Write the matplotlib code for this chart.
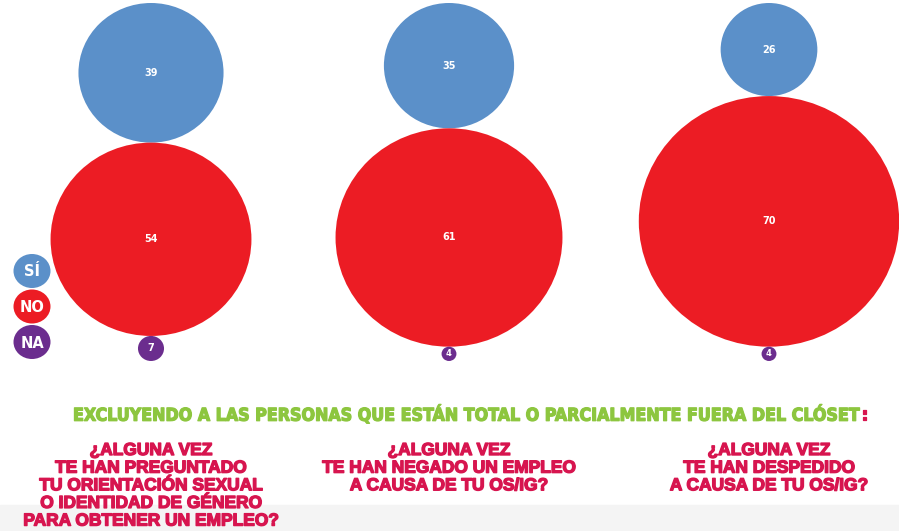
import matplotlib
matplotlib.use('Agg')
import matplotlib.pyplot as plt
import matplotlib.patheffects as pe
from matplotlib.patches import Ellipse, Rectangle

# data
respuestas = ['SÍ', 'NO', 'NA']
si = [39, 35, 26]
no = [54, 61, 70]
na = [7, 4, 4]
preguntas = [
    '¿ALGUNA VEZ\nTE HAN PREGUNTADO\nTU ORIENTACIÓN SEXUAL\nO IDENTIDAD DE GÉNERO\nPARA OBTENER UN EMPLEO?',
    '¿ALGUNA VEZ\nTE HAN NEGADO UN EMPLEO\nA CAUSA DE TU OS/IG?',
    '¿ALGUNA VEZ\nTE HAN DESPEDIDO\nA CAUSA DE TU OS/IG?',
]
titulo = 'EXCLUYENDO A LAS PERSONAS QUE ESTÁN TOTAL O PARCIALMENTE FUERA DEL CLÓSET'

colores = ['#5B90C9', '#EC1C24', '#6B2D8E']
verde = '#8DC63F'
magenta = '#D7154F'

fig = plt.figure(figsize=(8.99, 5.31), dpi=100)
ax = fig.add_axes([0, 0, 1, 1])
ax.set_xlim(0, 899)
ax.set_ylim(531, 0)
ax.axis('off')

# light band at the bottom
ax.add_patch(Rectangle((0, 505), 899, 26, color='#F4F4F4', zorder=0))

# bubbles: radius proportional to value, stacked from the top
kx, ky = 1.86, 1.79
xs = [151, 449, 769]
for i, x in enumerate(xs):
    top = 3
    for vals, col in zip([si, no, na], colores):
        v = vals[i]
        cy = top + ky * v
        ax.add_patch(Ellipse((x, cy), 2 * kx * v, 2 * ky * v, color=col, lw=0))
        ax.text(x, cy, str(v), color='white', fontsize=7 if v > 5 else 6,
                fontweight='bold', ha='center', va='center')
        top = cy + ky * v

# legend
for j, (lab, col) in enumerate(zip(respuestas, colores)):
    cy = 271 + 35.5 * j
    ax.add_patch(Ellipse((32, cy), 37, 34, color=col, lw=0))
    ax.text(32, cy + 1, lab, color='white', fontsize=10.5, fontweight='bold',
            ha='center', va='center')

# title, shrunk to fit the width of the reference
grueso_v = [pe.withStroke(linewidth=0.9, foreground=verde)]
t = ax.text(0, 415, titulo, color=verde, fontsize=14, fontweight='bold',
            family='DejaVu Sans', stretch='condensed', ha='left', va='center',
            path_effects=grueso_v)
r = fig.canvas.get_renderer()
w = t.get_window_extent(r).width
fs = 14 * 790 / w
t.set_fontsize(fs)
t.set_x(73)
ax.annotate(':', xy=(1, 0.5), xycoords=t, color=magenta, fontsize=fs,
            fontweight='bold', family='DejaVu Sans', stretch='condensed',
            ha='left', va='center',
            path_effects=[pe.withStroke(linewidth=0.9, foreground=magenta)])

# questions
grueso_m = [pe.withStroke(linewidth=1.0, foreground=magenta)]
for x, q in zip(xs, preguntas):
    ax.text(x, 443, q, color=magenta, fontsize=12.5, fontweight='bold',
            family=['Liberation Sans', 'DejaVu Sans'], ha='center', va='top',
            linespacing=1.22, path_effects=grueso_m)

fig.savefig('out.png', dpi=100)
